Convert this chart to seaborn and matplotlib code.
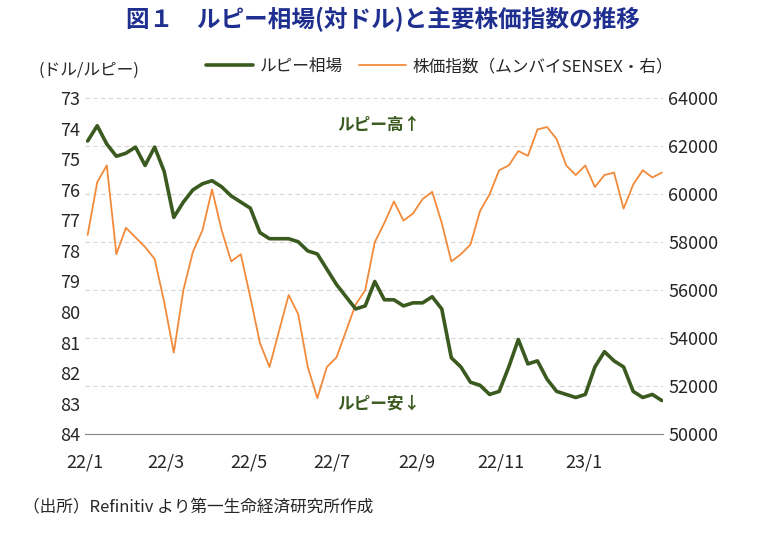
import pandas as pd
import matplotlib.pyplot as plt
import seaborn as sns

# weekly readings, 2022-01-03 .. 2023-02-27
rupee = [74.4, 73.9, 74.5, 74.9, 74.8,
         74.6, 75.2, 74.6, 75.4,
         76.9, 76.4, 76.0, 75.8,
         75.7, 75.9, 76.2, 76.4,
         76.6, 77.4, 77.6, 77.6, 77.6,
         77.7, 78.0, 78.1, 78.6,
         79.1, 79.5, 79.9, 79.8,
         79.0, 79.6, 79.6, 79.8, 79.7,
         79.7, 79.5, 79.9, 81.5,
         81.8, 82.3, 82.4, 82.7, 82.6,
         81.8, 80.9, 81.7, 81.6,
         82.2, 82.6, 82.7, 82.8,
         82.7, 81.8, 81.3, 81.6, 81.8,
         82.6, 82.8, 82.7, 82.9]
sensex = [58300, 60500, 61200, 57500, 58600,
          58200, 57800, 57300, 55500,
          53400, 56000, 57600, 58500,
          60200, 58500, 57200, 57500,
          55700, 53800, 52800, 54300, 55800,
          55000, 52800, 51500, 52800,
          53200, 54300, 55400, 56000,
          58000, 58800, 59700, 58900, 59200,
          59800, 60100, 58800, 57200,
          57500, 57900, 59300, 60000, 61000,
          61200, 61800, 61600, 62700,
          62800, 62300, 61200, 60800,
          61200, 60300, 60800, 60900, 59400,
          60400, 61000, 60700, 60900]
tick_labels = ["22/1", "22/3", "22/5", "22/7", "22/9", "22/11", "23/1"]
tick_dates = pd.to_datetime(["2022-01-01", "2022-03-01", "2022-05-01", "2022-07-01",
                             "2022-09-01", "2022-11-01", "2023-01-01"])

df = pd.DataFrame({"date": pd.date_range("2022-01-03", periods=len(rupee), freq="W-MON"),
                   "rupee": rupee, "sensex": sensex})

sns.set_style("white")
plt.rcParams['font.family'] = ['Noto Sans CJK JP', 'DejaVu Sans']

green = "#3b5a1f"
orange = "#f28a3a"

fig = plt.figure(figsize=(7.65, 5.34), dpi=100)
ax = fig.add_axes([0.111, 0.187, 0.756, 0.629])
ax2 = ax.twinx()

sns.lineplot(data=df, x="date", y="sensex", ax=ax2, color=orange, lw=1.3)
sns.lineplot(data=df, x="date", y="rupee", ax=ax, color=green, lw=2.6)
ax.set_zorder(ax2.get_zorder() + 1)
ax.patch.set_visible(False)

ax.set_ylim(84, 73)
ax.set_yticks(range(73, 85))
ax2.set_ylim(50000, 64000)
ax2.set_yticks(range(50000, 64001, 2000))
ax.set_xlim(pd.Timestamp("2022-01-01"), pd.Timestamp("2023-02-28"))
ax.set_xticks(tick_dates)
ax.set_xticklabels(tick_labels)
for a in (ax, ax2):
    a.set_xlabel("")
    a.set_ylabel("")
    a.tick_params(labelsize=13, length=0)
    for s in a.spines.values():
        s.set_visible(False)
ax.tick_params(axis="x", pad=14)
ax.spines["bottom"].set_visible(True)
ax.spines["bottom"].set_color("#888888")
ax2.yaxis.grid(True, linestyle=(0, (4, 3)), color="#d5d5d5", lw=0.8)

ax.text(0.58, 0.905, "ルピー高↑", transform=ax.transAxes, ha="right", color=green,
        fontsize=12, fontweight="bold")
ax.text(0.58, 0.075, "ルピー安↓", transform=ax.transAxes, ha="right", color=green,
        fontsize=12, fontweight="bold")

fig.text(0.5, 0.95, "図１　ルピー相場(対ドル)と主要株価指数の推移", ha="center",
         fontsize=17, fontweight="bold", color="#1f2f8f")
fig.text(0.05, 0.86, "(ドル/ルピー)", fontsize=12)
fig.legend(handles=[plt.Line2D([], [], color=green, lw=2.6),
                    plt.Line2D([], [], color=orange, lw=1.3)],
           labels=["ルピー相場", "株価指数（ムンバイSENSEX・右）"],
           loc="center left", bbox_to_anchor=(0.25, 0.875), ncol=2, frameon=False,
           fontsize=12, handlelength=2.8, columnspacing=1.0, handletextpad=0.4)
fig.text(0.03, 0.04, "（出所）Refinitiv より第一生命経済研究所作成", fontsize=12)

fig.savefig("out.png", dpi=100)
